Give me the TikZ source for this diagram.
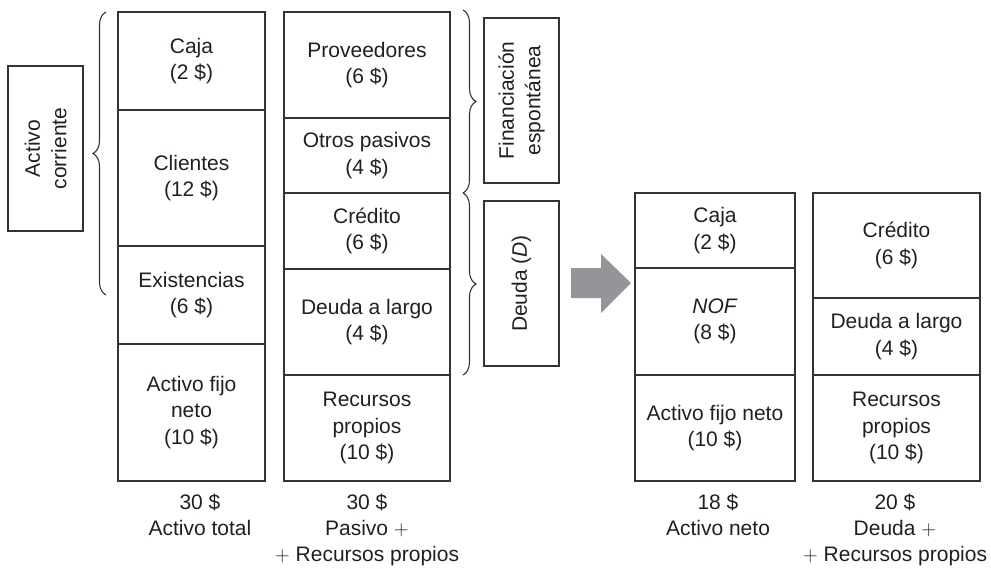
\documentclass[tikz,border=0pt]{standalone}
\usepackage{fontspec}
\setmainfont{Liberation Sans}
\usetikzlibrary{decorations.pathreplacing}
\definecolor{linec}{HTML}{333333}
\definecolor{textc}{HTML}{231F20}
\definecolor{arrowc}{HTML}{939598}
\begin{document}
\begin{tikzpicture}[x=1pt,y=-1pt,
  every node/.style={text=textc,font=\fontsize{21}{26.5}\selectfont},
  cell/.style={draw=linec,line width=1.5pt,inner sep=0pt,align=center},
  side/.style={draw=linec,line width=1.5pt,inner sep=0pt,align=center,rotate=90,minimum width=165pt,minimum height=75pt},
  lbl/.style={align=center,anchor=north,inner sep=0pt,font=\fontsize{21}{26}\selectfont},
  bracec/.style={draw=linec,line width=1.1pt,decorate,decoration={brace,amplitude=13pt}}]
\useasboundingbox (0,0) rectangle (991,568);
% left column
\node[cell,minimum width=147pt,minimum height=98pt] (caja) at (191.5,61) {Caja\\(2 \$)};
\node[cell,minimum width=147pt,minimum height=136pt] (cli) at (191.5,178) {Clientes\\(12 \$)};
\node[cell,minimum width=147pt,minimum height=98pt] (exi) at (191.5,295) {Existencias\\(6 \$)};
\node[cell,minimum width=147pt,minimum height=137pt] (afn) at (191.5,412.5) {Activo fijo\\neto\\(10 \$)};
% second column
\node[cell,minimum width=166pt,minimum height=106pt] (prov) at (367,65) {Proveedores\\(6 \$)};
\node[cell,minimum width=166pt,minimum height=75pt] (otros) at (367,155.5) {Otros pasivos\\(4 \$)};
\node[cell,minimum width=166pt,minimum height=76pt] (cred) at (367,231) {Crédito\\(6 \$)};
\node[cell,minimum width=166pt,minimum height=106pt] (dlar) at (367,322) {Deuda a largo\\(4 \$)};
\node[cell,minimum width=166pt,minimum height=106pt] (rp) at (367,428) {Recursos\\propios\\(10 \$)};
% side boxes
\node[side] (ac) at (45.5,148.5) {Activo\\corriente};
\node[side] (fe) at (521.5,100.5) {Financiación\\espontánea};
\node[side] (deu) at (521.5,283.5) {Deuda (\textit{D})};
% braces
\coordinate (lb1) at (106,295);
\coordinate (lb2) at (106,12);
\draw[bracec] (lb1) -- (lb2);
\coordinate (rb1) at (463,10);
\coordinate (rb2) at (463,193);
\coordinate (rb3) at (463,375);
\draw[bracec] (rb1) -- (rb2);
\draw[bracec] (rb2) -- (rb3);
% arrow
\fill[arrowc] (571,268) -- (601,268) -- (601,254) -- (631,283) -- (601,313) -- (601,298) -- (571,298) -- cycle;
% right column 1
\node[cell,minimum width=160pt,minimum height=75pt] (caja2) at (715,230.5) {Caja\\(2 \$)};
\node[cell,minimum width=160pt,minimum height=107pt] (nof) at (715,321.5) {\textit{NOF}\\(8 \$)};
\node[cell,minimum width=160pt,minimum height=106pt] (afn2) at (715,428) {Activo fijo neto\\(10 \$)};
% right column 2
\node[cell,minimum width=167pt,minimum height=105pt] (cred2) at (896.5,245.5) {Crédito\\(6 \$)};
\node[cell,minimum width=167pt,minimum height=77pt] (dlar2) at (896.5,336.5) {Deuda a largo\\(4 \$)};
\node[cell,minimum width=167pt,minimum height=106pt] (rp2) at (896.5,428) {Recursos\\propios\\(10 \$)};
% bottom labels
\node[lbl] (l1) at (200,494) {30 \$\\Activo total};
\node[lbl] (l2) at (367,494) {30 \$\\Pasivo $+$\\$+$ Recursos propios};
\node[lbl] (l3) at (718,494) {18 \$\\Activo neto};
\node[lbl] (l4) at (895,494) {20 \$\\Deuda $+$\\$+$ Recursos propios};
\end{tikzpicture}
\end{document}
